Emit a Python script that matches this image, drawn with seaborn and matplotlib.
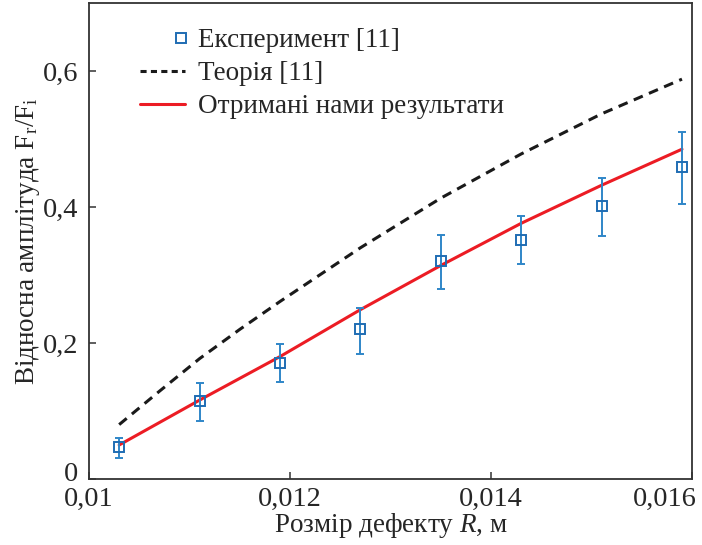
import matplotlib
matplotlib.use("Agg")

import matplotlib.pyplot as plt
import matplotlib.transforms as mtransforms
import numpy as np
import pandas as pd
import seaborn as sns
from matplotlib.legend_handler import HandlerLine2DCompound
from matplotlib.lines import Line2D

# defect size R, m
r_exp = [0.0103, 0.0111, 0.0119, 0.0127, 0.0135, 0.0143, 0.0151, 0.0159]
# experiment [11]: value, lower and upper error-bar ends
amp_exp = [0.047, 0.114, 0.171, 0.220, 0.321, 0.352, 0.402, 0.459]
amp_lo = [0.031, 0.086, 0.143, 0.184, 0.279, 0.316, 0.358, 0.405]
amp_hi = [0.061, 0.141, 0.199, 0.252, 0.359, 0.387, 0.443, 0.510]

# theory [11] and our results (curves)
r_curve = [0.0103, 0.0107, 0.0111, 0.0115, 0.0119, 0.0127, 0.0135, 0.0143, 0.0151, 0.0159]
amp_theory = [0.080, 0.129, 0.177, 0.220, 0.261, 0.340, 0.413, 0.478, 0.537, 0.588]
amp_ours = [0.050, 0.083, 0.116, 0.148, 0.180, 0.249, 0.314, 0.376, 0.432, 0.485]

x_ticks = [0.010, 0.012, 0.014, 0.016]
x_labels = ["0,01", "0,012", "0,014", "0,016"]
y_ticks = [0.0, 0.2, 0.4, 0.6]
y_labels = ["0", "0,2", "0,4", "0,6"]

sns.set_theme(style="ticks")
plt.rcParams["font.family"] = ["Liberation Serif", "DejaVu Serif"]
plt.rcParams["mathtext.fontset"] = "custom"
plt.rcParams["mathtext.rm"] = "Liberation Serif"
plt.rcParams["mathtext.it"] = "Liberation Serif:italic"

BLUE = "#2f86c8"
SQ_EDGE = "#1f6db3"
RED = "#ec1c24"
BLACK = "#1a1a1a"
FS = 19.5


class MarkerAtEnd(HandlerLine2DCompound):
    """Draw the single legend marker at the right end of the handle."""

    def get_xdata(self, legend, xdescent, ydescent, width, height, fontsize):
        xdata, _ = super().get_xdata(legend, xdescent, ydescent, width,
                                     height, fontsize)
        return xdata, [width - xdescent - 3]


curves = pd.DataFrame({"r": r_curve, "theory": amp_theory, "ours": amp_ours})

fig = plt.figure(figsize=(7.02, 5.45), dpi=100)
ax = fig.add_axes([0.1268, 0.1211, 0.859, 0.8734])

sns.lineplot(data=curves, x="r", y="theory", ax=ax, color=BLACK,
             linestyle=(0, (3.2, 2.2)), linewidth=2.2)
sns.lineplot(data=curves, x="r", y="ours", ax=ax, color=RED, linewidth=2.2)

exp = np.array(amp_exp)
yerr = [exp - np.array(amp_lo), np.array(amp_hi) - exp]
ax.errorbar(r_exp, amp_exp, yerr=yerr, fmt="none", ecolor=BLUE,
            elinewidth=1.4, capsize=3.2, capthick=1.4, zorder=3)
ax.plot(r_exp, amp_exp, linestyle="none", marker="s", markersize=6.5,
        markerfacecolor="none", markeredgecolor=SQ_EDGE,
        markeredgewidth=1.4, zorder=4)

ax.set_xlim(0.010, 0.016)
ax.set_ylim(0, 0.7)
ax.set_xticks(x_ticks, x_labels)
ax.set_yticks(y_ticks, y_labels)
ax.tick_params(direction="in", length=5, width=1.1, color="#333333",
               labelsize=FS + 1, pad=8)
ax.tick_params(axis="x", pad=6)
for sp in ax.spines.values():
    sp.set_color("#333333")
    sp.set_linewidth(1.3)

# last x label sits flush with the right edge, "0" on y is lifted a bit
last = ax.get_xticklabels()[-1]
last.set_horizontalalignment("right")
last.set_transform(last.get_transform() + mtransforms.ScaledTranslation(
    5 / 100, 0, fig.dpi_scale_trans))
zero = ax.get_yticklabels()[0]
zero.set_transform(zero.get_transform() + mtransforms.ScaledTranslation(
    0, 8 / 100, fig.dpi_scale_trans))

ax.set_xlabel("Розмір дефекту $R$, м", fontsize=FS, labelpad=-1)
ax.set_ylabel(r"Відносна амплітуда $\mathregular{F_r/F_i}$", fontsize=FS,
              labelpad=0)

exp_handle = Line2D([], [], linestyle="none", marker="s", markersize=6.5,
                    markerfacecolor="none", markeredgecolor=SQ_EDGE,
                    markeredgewidth=1.4)
handles = [
    exp_handle,
    Line2D([], [], color=BLACK, linestyle=(0, (2.0, 1.4)), linewidth=2.2),
    Line2D([], [], color=RED, linewidth=2.2),
]
labels = ["Експеримент [11]", "Теорія [11]", "Отримані нами результати"]
ax.legend(handles, labels, loc="upper left", bbox_to_anchor=(0.085, 0.947),
          frameon=False, fontsize=FS, handlelength=1.65, handletextpad=0.5,
          labelspacing=0.3, borderpad=0, borderaxespad=0, numpoints=1,
          handler_map={exp_handle: MarkerAtEnd(numpoints=1)})

fig.savefig("out.png", dpi=100)
